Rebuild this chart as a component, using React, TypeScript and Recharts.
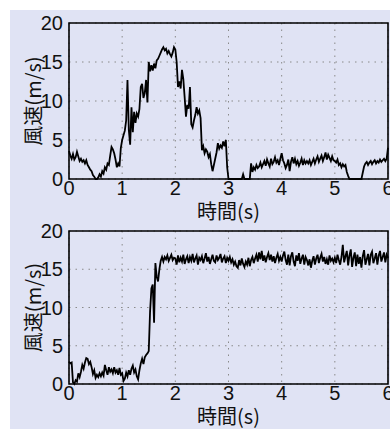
import { LineChart, Line, XAxis, YAxis, CartesianGrid, ReferenceArea } from "recharts";

// sampled every 0.025 s, 0..6 s
const sampleStep = 0.025;
const xTicks = [0, 1, 2, 3, 4, 5, 6];
const yTicks = [0, 5, 10, 15, 20];
const xTitle = "時間(s)";
const yTitle = "風速(m/s)";

const speedTop = [
  3.6, 3.0, 2.6, 3.2, 2.5, 2.8, 3.5, 2.9, 2.3, 2.6, 2.2, 2.4, 2.0, 2.4, 1.8, 1.5, 1.2, 1.0, 0.5, 0.3,
  0, 0, 0.2, 0.6, 0.3, 1.0, 0.7, 1.5, 1.2, 2.0, 1.8, 3.0, 4.1, 3.8, 3.3, 2.5, 1.5, 2.0, 1.6, 4.0,
  5.0, 5.6, 6.2, 7.5, 12.7, 6.3, 4.4, 9.2, 6.0, 8.6, 7.2, 8.4, 8.0, 9.0, 11.8, 12.2, 10.4, 11.0, 12.7, 9.8,
  15.0, 13.8, 14.6, 13.9, 14.8, 14.2, 15.2, 15.4, 15.8, 16.2, 16.6, 16.9, 16.5, 16.7, 16.1, 16.4, 16.0, 15.7, 16.2, 16.9,
  16.6, 15.0, 11.8, 12.5, 11.6, 14.0, 12.8, 10.5, 8.0, 9.5, 9.0, 11.8, 7.0, 6.6, 7.5, 8.2, 9.2, 8.4, 8.8, 7.8,
  3.7, 4.2, 3.3, 3.8, 3.5, 2.8, 3.2, 1.9, 1.0, 1.8, 2.6, 3.4, 4.6, 3.9, 4.3, 4.0, 4.8, 4.2, 5.0, 1.5,
  0, 0, 0, 0, 0, 0, 0, 0, 0, 0, 0, 0.6, 0, 0, 0, 0, 0, 2.0, 0.9, 1.5,
  1.2, 1.8, 1.4, 1.6, 2.1, 1.5, 1.9, 2.3, 1.7, 2.5, 2.0, 1.6, 2.6, 1.9, 2.2, 2.8, 2.1, 2.4, 1.8, 2.6,
  3.3, 2.4, 2.0, 1.4, 1.8, 2.5, 1.0, 2.2, 2.8, 2.0, 2.6, 1.9, 2.3, 1.7, 2.1, 2.6, 1.8, 2.4, 2.0, 2.3,
  2.0, 2.4, 1.8, 2.2, 2.6, 2.0, 2.5, 2.9, 2.2, 2.6, 3.0, 2.3, 2.8, 3.4, 2.5, 3.1, 2.7, 2.3, 2.9, 2.4,
  2.3, 2.1, 2.5, 1.8, 2.0, 1.5, 1.9, 1.6, 1.8, 0.9, 0.4, 0, 0, 0, 0, 0, 0, 0, 0, 0,
  0, 0.8, 1.6, 2.0, 2.2, 1.8, 2.1, 2.3, 1.9, 2.2, 2.4, 2.0, 2.3, 2.1, 2.5, 2.2, 2.4, 2.6, 2.3, 2.6,
  4.0,
];

const speedBottom = [
  2.9, 2.7, 2.8, 0.2, 0, 0.5, 0.3, 1.4, 0.9, 1.6, 2.5, 2.0, 2.8, 3.4, 3.3, 2.6, 2.9, 2.2, 1.3, 1.8,
  0.8, 1.2, 0.9, 1.4, 1.0, 1.5, 1.1, 2.5, 1.8, 1.2, 2.2, 1.6, 1.9, 1.4, 2.2, 1.5, 1.8, 1.2, 2.1, 1.2,
  1.4, 0.4, 0.7, 1.5, 1.0, 1.8, 1.2, 2.0, 2.4, 1.5, 1.9, 1.0, 0.6, 1.8, 2.7, 3.3, 2.6, 3.5, 3.8, 4.0,
  4.3, 9.5, 12.5, 13.0, 8.0, 15.8, 14.0, 13.4, 15.0, 16.1, 16.6, 16.0, 16.6, 16.3, 16.8, 16.1, 16.5, 16.9, 16.2, 16.5,
  16.4, 15.6, 16.8, 15.9, 16.5, 16.0, 16.9, 15.7, 16.3, 16.7, 15.8, 16.6, 16.1, 17.0, 15.9, 16.4, 16.8, 15.6, 16.5, 16.2,
  16.7, 15.8, 16.4, 17.1, 16.0, 16.6, 15.7, 16.3, 16.9, 16.1, 15.9, 16.8, 16.2, 16.5, 17.0, 15.9, 16.4, 16.7, 15.8, 16.5,
  16.1, 16.6, 15.9, 16.3, 15.6, 16.0, 15.4, 15.2, 16.2, 15.5, 16.4, 15.7, 15.3, 16.0, 15.6, 16.5, 15.4, 16.2, 16.6, 15.8,
  16.4, 16.9, 16.0, 17.2, 16.3, 17.4, 16.1, 16.8, 15.9, 16.6, 17.1, 16.2, 16.9, 16.0, 16.7, 15.8, 16.5, 17.0, 16.1, 16.6,
  16.0, 16.8, 17.3, 16.2, 15.6, 16.9, 15.5, 16.7, 17.2, 16.0, 15.4, 16.8, 16.1, 17.1, 15.7, 16.4, 16.9, 15.6, 16.6, 16.2,
  15.5, 16.3, 15.2, 16.1, 16.7, 15.6, 16.4, 16.9, 15.8, 16.5, 17.0, 16.0, 16.6, 15.7, 16.3, 15.6, 16.8, 16.1, 16.4, 15.9,
  16.5, 15.8, 16.9, 16.2, 15.6, 16.6, 18.2, 15.9, 16.7, 17.4, 15.5, 16.8, 17.6, 15.3, 16.5, 17.2, 15.4, 16.9, 15.7, 16.6,
  15.2, 16.7, 17.5, 15.6, 16.3, 17.0, 15.5, 16.9, 17.3, 15.8, 16.4, 17.1, 15.6, 16.8, 17.4, 16.0, 16.6, 17.2, 15.9, 16.9,
  16.5,
];

const toRows = (values: number[]) =>
  values.map((v, i) => ({ t: Math.round(i * sampleStep * 1000) / 1000, v }));

const numFont = "'Liberation Sans Narrow', 'Liberation Sans', Arial, sans-serif";
const cjkFont = "'Noto Sans CJK JP', 'Liberation Sans', sans-serif";
const tickStyle = { fill: "#111", fontSize: 20, fontFamily: numFont };

function YTitle({ viewBox }: any) {
  const cx = viewBox.x + 32;
  const cy = viewBox.y + viewBox.height / 2;
  return (
    <text x={cx} y={cy} transform={`rotate(-90, ${cx}, ${cy})`} textAnchor="middle"
      dominantBaseline="central" fontSize={20} fontFamily={cjkFont} fill="#111">
      {yTitle}
    </text>
  );
}

function Panel({ values, top, height, marginTop, axisHeight, titleDrop }: any) {
  const XTitle = ({ viewBox }: any) => (
    <text x={viewBox.x + viewBox.width / 2} y={viewBox.y + titleDrop} textAnchor="middle"
      fontSize={20} fontFamily={cjkFont} fill="#111">
      {xTitle}
    </text>
  );
  return (
    <div style={{ position: "absolute", left: 0, top }}>
      <LineChart width={390} height={height} data={toRows(values)}
        margin={{ top: marginTop, right: 2, left: 0, bottom: 0 }}>
        <CartesianGrid stroke="#8a8a8a" strokeDasharray="1.5 5" />
        <XAxis dataKey="t" type="number" domain={[0, 6]} ticks={xTicks} height={axisHeight}
          tickSize={0} tickMargin={2} axisLine={false} tick={tickStyle} interval={0}
          label={<XTitle />} />
        <YAxis type="number" domain={[0, 20]} ticks={yTicks} width={69} tickSize={0}
          tickMargin={6} axisLine={false} tick={tickStyle} interval={0} label={<YTitle />} />
        <ReferenceArea x1={0} x2={6} y1={0} y2={20} fill="none" stroke="#000"
          strokeWidth={1.6} fillOpacity={0} strokeOpacity={1} ifOverflow="visible" />
        <Line dataKey="v" type="linear" stroke="#000" strokeWidth={1.8} dot={false}
          isAnimationActive={false} />
      </LineChart>
    </div>
  );
}

export default function App() {
  return (
    <div style={{ position: "absolute", left: 0, top: 0, width: 390, height: 429, background: "#fff" }}>
      <div style={{ position: "absolute", left: 10, top: 10, width: 380, height: 419, background: "#e0e3f4" }} />
      <Panel values={speedTop} top={0} height={230} marginTop={23} axisHeight={51} titleDrop={40} />
      <Panel values={speedBottom} top={215} height={214} marginTop={16} axisHeight={45} titleDrop={40} />
    </div>
  );
}
